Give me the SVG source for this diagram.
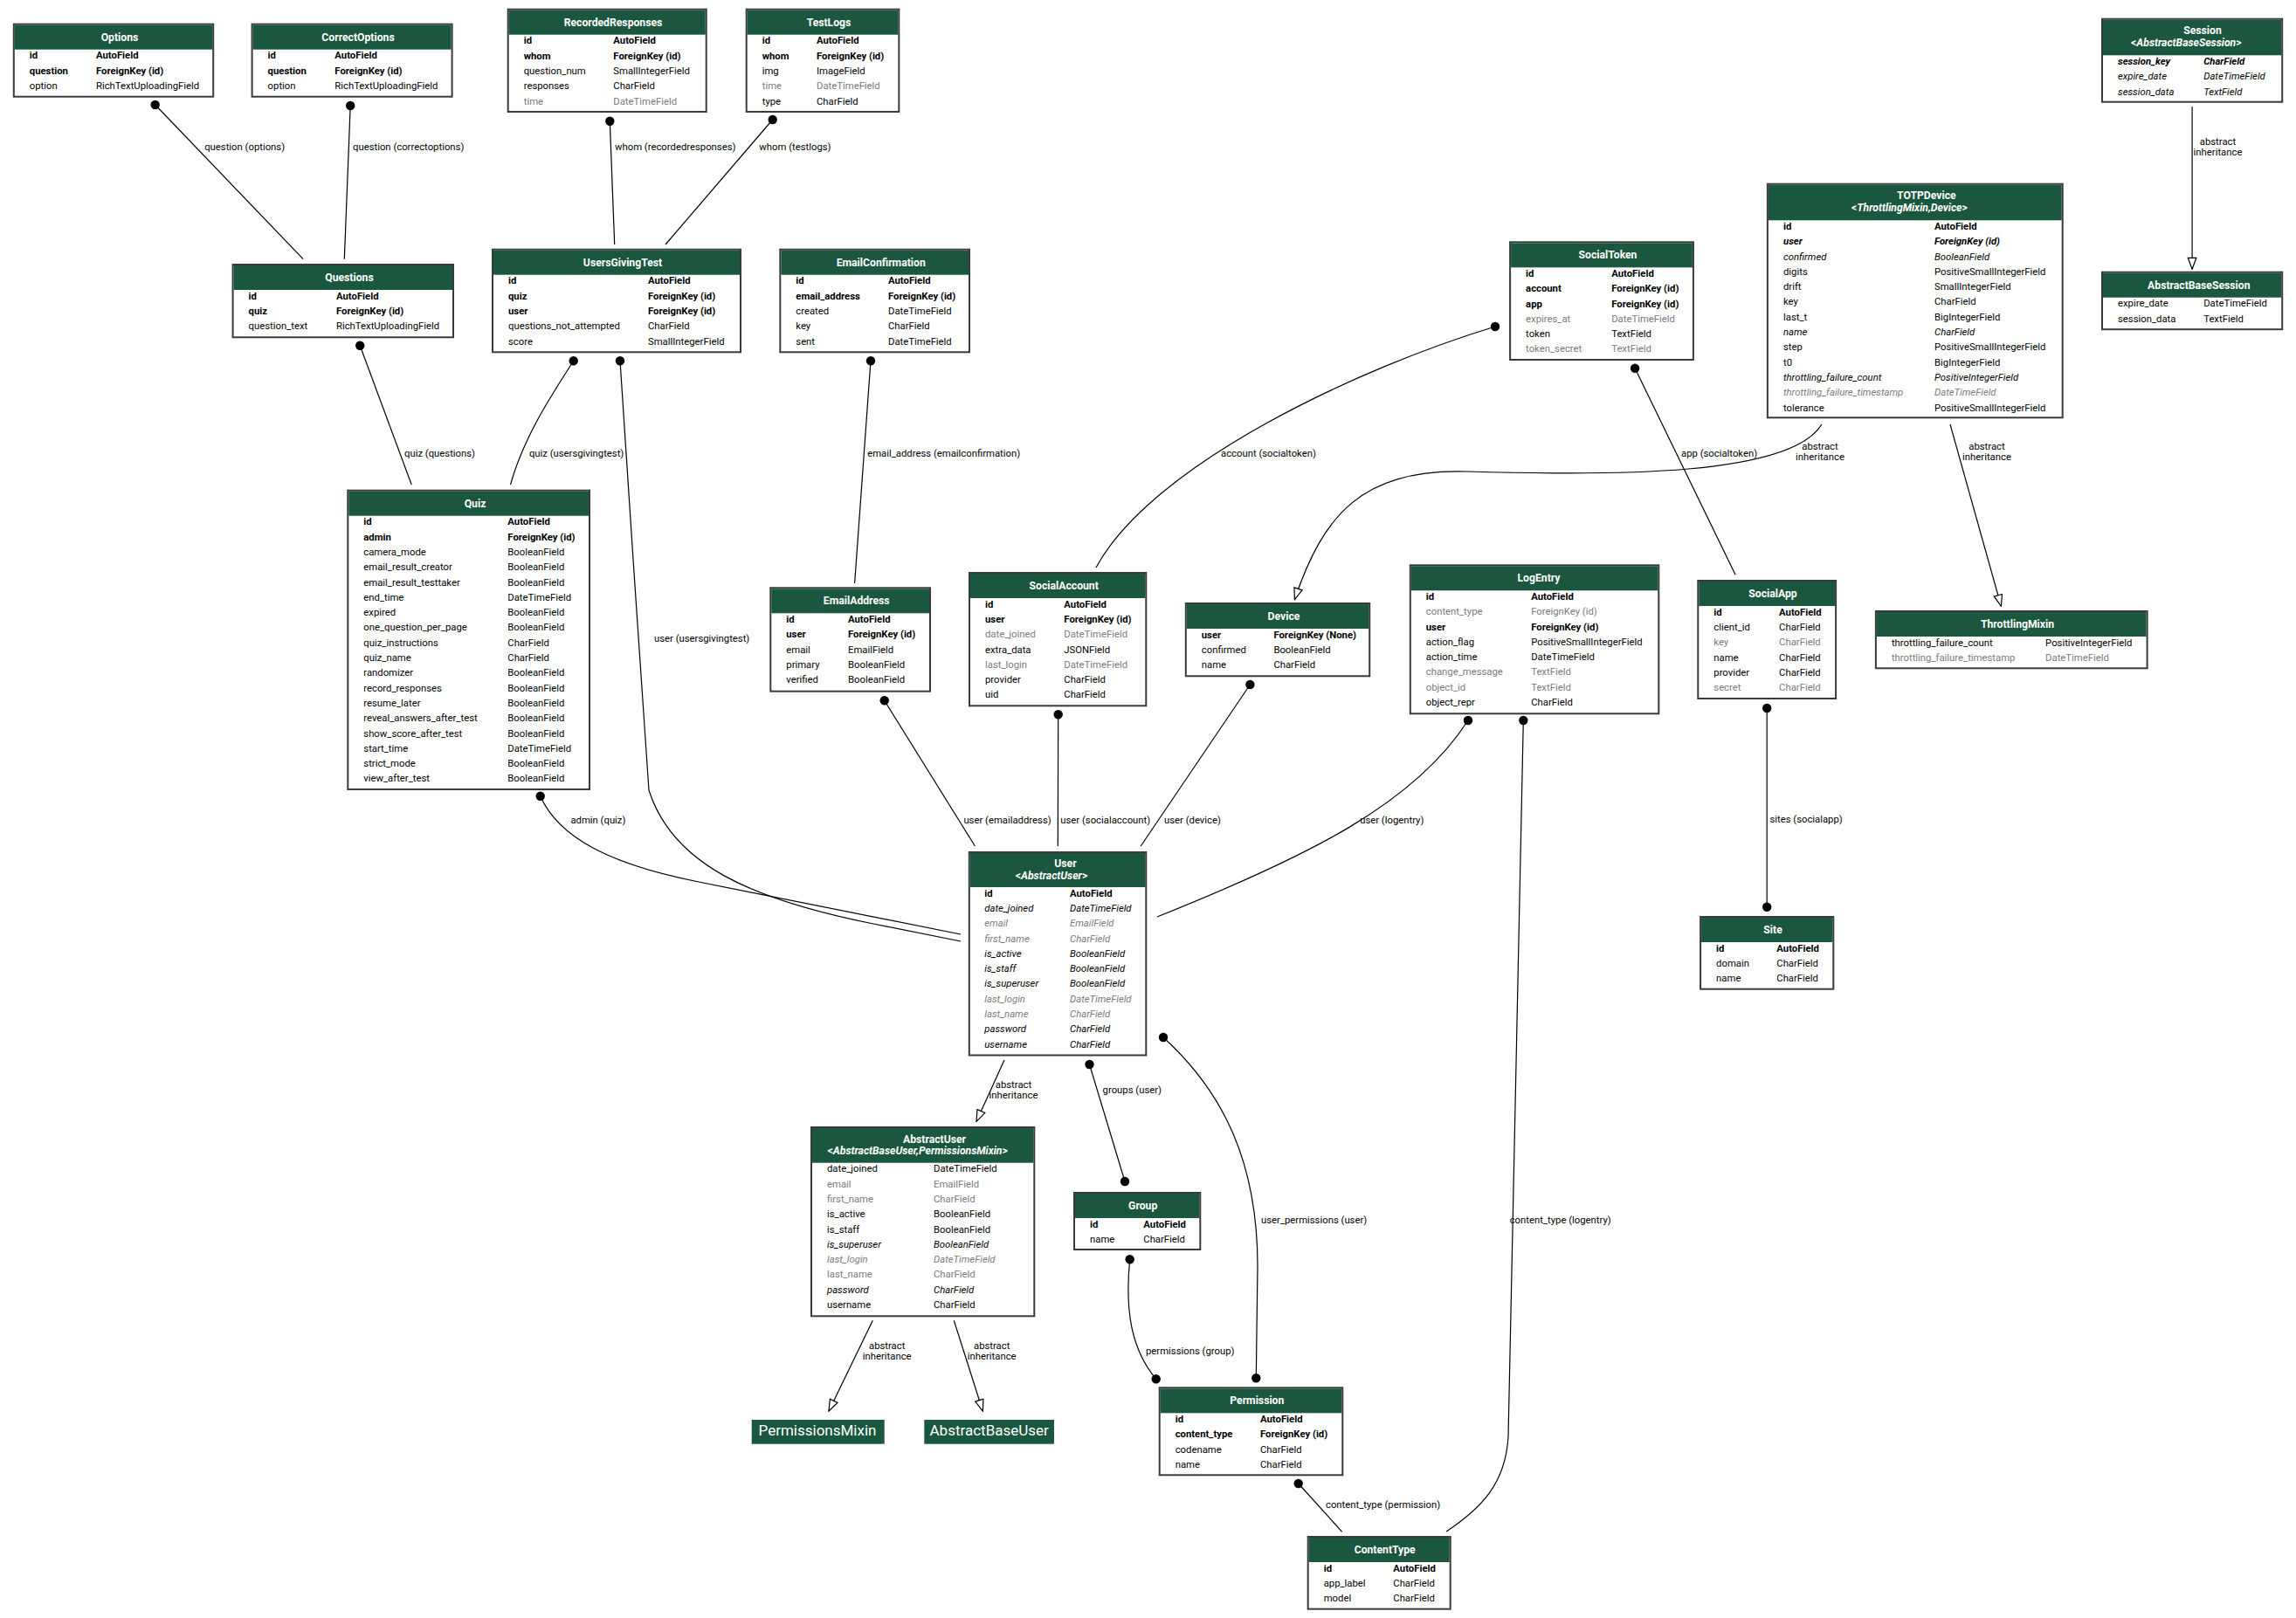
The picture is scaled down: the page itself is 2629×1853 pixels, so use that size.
<svg xmlns="http://www.w3.org/2000/svg" width="2629" height="1853" viewBox="0 0 2629 1853">
<style>
text{font-family:Roboto,"Liberation Sans",sans-serif;font-size:11.3px;fill:#000}
.box{fill:#fff;stroke:#3a3a3a;stroke-width:2}
.hd{fill:#1b563f}
.ti{font-size:12.2px;font-weight:bold;fill:#fff;text-anchor:middle}
.b{font-weight:bold}
.i{font-style:italic}
.g{fill:#7b7b7b}
.c{text-anchor:middle}
.e{fill:none;stroke:#000;stroke-width:1.2}
.fk{marker-start:url(#dot)}
.mm{marker-start:url(#dot);marker-end:url(#dot)}
.inh{marker-end:url(#tri)}
.big{fill:#1b563f}
.bt{font-size:17px;fill:#fff;text-anchor:middle}
</style>
<defs>
<marker id="dot" viewBox="-6 -6 12 12" refX="0" refY="0" markerWidth="12" markerHeight="12" markerUnits="userSpaceOnUse"><circle r="5.2" fill="#000"/></marker>
<marker id="tri" viewBox="-15 -7 16 14" refX="0" refY="0" markerWidth="16" markerHeight="14" markerUnits="userSpaceOnUse" orient="auto"><path d="M0,0 L-13,-4.8 L-13,4.8 Z" fill="#fff" stroke="#000" stroke-width="1.2"/></marker>
</defs>
<rect width="2629" height="1853" fill="#fff"/>

<g id="connectors">
<path class="e fk" d="M177.7,120 L347.1,296.7"/>
<text x="234.2" y="172.3">question (options)</text>
<path class="e fk" d="M401.2,121 L394.3,296.7"/>
<text x="404" y="172.3">question (correctoptions)</text>
<path class="e fk" d="M412.2,395.7 L471.2,555"/>
<text x="463" y="523.4">quiz (questions)</text>
<path class="e fk" d="M698.3,138.7 L703.7,280"/>
<text x="704" y="172.3">whom (recordedresponses)</text>
<path class="e fk" d="M884.7,137 L762,280"/>
<text x="869.3" y="172.3">whom (testlogs)</text>
<path class="e fk" d="M656.7,413.3 C630,455 600,500 584.5,555"/>
<text x="605.9" y="523.4">quiz (usersgivingtest)</text>
<path class="e fk" d="M710,413.3 C718,530 735,800 743,905 C770,990 860,1030 1000,1058 L1100,1078"/>
<text x="749" y="735.4">user (usersgivingtest)</text>
<path class="e fk" d="M618.7,911.7 C640,960 700,990 800,1010 L1100,1070"/>
<text x="653.4" y="942.5">admin (quiz)</text>
<path class="e fk" d="M997,413.3 L978.6,668"/>
<text x="993.2" y="523.4">email_address (emailconfirmation)</text>
<path class="e fk" d="M1712,374 C1560,420 1320,530 1255,650"/>
<text x="1398" y="523.4">account (socialtoken)</text>
<path class="e fk" d="M1012.7,802.3 L1116.4,969"/>
<text x="1103.4" y="942.5">user (emailaddress)</text>
<path class="e fk" d="M1211.7,818.3 L1211.3,969"/>
<text x="1214.3" y="942.5">user (socialaccount)</text>
<path class="e fk" d="M1431.4,784 L1306.2,969"/>
<text x="1333" y="942.5">user (device)</text>
<path class="e fk" d="M1681,825 C1620,920 1500,980 1325,1050"/>
<text x="1557.2" y="942.5">user (logentry)</text>
<path class="e fk" d="M1744.3,825 L1727,1645 C1724,1700 1695,1728 1656,1754"/>
<text x="1728.7" y="1400.7">content_type (logentry)</text>
<path class="e fk" d="M1872.1,421.7 L1987.1,658.3"/>
<text x="1925" y="523.4">app (socialtoken)</text>
<path class="e mm" d="M2023.2,811 L2023.2,1038.7"/>
<text x="2026.4" y="942.3">sites (socialapp)</text>
<path class="e inh" d="M2086,486 C2050,545 1850,545 1680,540 C1560,536 1515,590 1482.4,686.7"/>
<text class="c" x="2084" y="515">abstract</text>
<text class="c" x="2084" y="527">inheritance</text>
<path class="e inh" d="M2233,486 L2291.4,694.3"/>
<text class="c" x="2275" y="515">abstract</text>
<text class="c" x="2275" y="527">inheritance</text>
<path class="e inh" d="M2510.1,122.3 L2510.1,308.3"/>
<text class="c" x="2539.5" y="166.3">abstract</text>
<text class="c" x="2539.5" y="178">inheritance</text>
<path class="e inh" d="M1150,1214 L1118,1284.4"/>
<text class="c" x="1160.5" y="1246.4">abstract</text>
<text class="c" x="1160.5" y="1258">inheritance</text>
<path class="e inh" d="M999.3,1512.3 L949,1616"/>
<text class="c" x="1015.7" y="1545">abstract</text>
<text class="c" x="1015.7" y="1557.3">inheritance</text>
<path class="e inh" d="M1092.3,1512.3 L1125.3,1616"/>
<text class="c" x="1135.7" y="1545">abstract</text>
<text class="c" x="1135.7" y="1557.3">inheritance</text>
<path class="e mm" d="M1247.5,1219 L1288,1353"/>
<text x="1262.6" y="1251.5">groups (user)</text>
<path class="e mm" d="M1332,1188 C1400,1250 1440,1330 1440,1450 L1438.3,1578.3"/>
<text x="1444" y="1401.3">user_permissions (user)</text>
<path class="e mm" d="M1293.7,1442.3 C1288,1500 1295,1545 1323.7,1579.3"/>
<text x="1312" y="1551.3">permissions (group)</text>
<path class="e fk" d="M1486.7,1699 L1536.7,1754.3"/>
<text x="1518" y="1727.3">content_type (permission)</text>
</g>

<g id="Options">
<rect class="box" x="15.8" y="27.7" width="228.4" height="83"/>
<rect class="hd" x="16.8" y="28.7" width="226.4" height="28"/>
<text class="ti" x="137" y="46.5">Options</text>
<text class="b" x="33.8" y="67.3">id</text><text class="b" x="110" y="67.3">AutoField</text>
<text class="b" x="33.8" y="84.6">question</text><text class="b" x="110" y="84.6">ForeignKey (id)</text>
<text x="33.8" y="101.9">option</text><text x="110" y="101.9">RichTextUploadingField</text>
</g>

<g id="CorrectOptions">
<rect class="box" x="288.6" y="27.7" width="229" height="83"/>
<rect class="hd" x="289.6" y="28.7" width="227" height="28"/>
<text class="ti" x="410" y="46.5">CorrectOptions</text>
<text class="b" x="306.6" y="67.3">id</text><text class="b" x="383.3" y="67.3">AutoField</text>
<text class="b" x="306.6" y="84.6">question</text><text class="b" x="383.3" y="84.6">ForeignKey (id)</text>
<text x="306.6" y="101.9">option</text><text x="383.3" y="101.9">RichTextUploadingField</text>
</g>

<g id="Questions">
<rect class="box" x="266.6" y="303" width="252.4" height="83.3"/>
<rect class="hd" x="267.6" y="304" width="250.4" height="28"/>
<text class="ti" x="400" y="321.8">Questions</text>
<text class="b" x="284.6" y="342.6">id</text><text class="b" x="385" y="342.6">AutoField</text>
<text class="b" x="284.6" y="359.9">quiz</text><text class="b" x="385" y="359.9">ForeignKey (id)</text>
<text x="284.6" y="377.2">question_text</text><text x="385" y="377.2">RichTextUploadingField</text>
</g>

<g id="RecordedResponses">
<rect class="box" x="581.7" y="10.7" width="227" height="117.3"/>
<rect class="hd" x="582.7" y="11.7" width="225" height="28"/>
<text class="ti" x="702" y="29.5">RecordedResponses</text>
<text class="b" x="599.7" y="50.3">id</text><text class="b" x="702.3" y="50.3">AutoField</text>
<text class="b" x="599.7" y="67.6">whom</text><text class="b" x="702.3" y="67.6">ForeignKey (id)</text>
<text x="599.7" y="84.9">question_num</text><text x="702.3" y="84.9">SmallIntegerField</text>
<text x="599.7" y="102.2">responses</text><text x="702.3" y="102.2">CharField</text>
<text class="g" x="599.7" y="119.5">time</text><text class="g" x="702.3" y="119.5">DateTimeField</text>
</g>

<g id="TestLogs">
<rect class="box" x="854.7" y="10.7" width="174.6" height="117.3"/>
<rect class="hd" x="855.7" y="11.7" width="172.6" height="28"/>
<text class="ti" x="949" y="29.5">TestLogs</text>
<text class="b" x="872.7" y="50.3">id</text><text class="b" x="935" y="50.3">AutoField</text>
<text class="b" x="872.7" y="67.6">whom</text><text class="b" x="935" y="67.6">ForeignKey (id)</text>
<text x="872.7" y="84.9">img</text><text x="935" y="84.9">ImageField</text>
<text class="g" x="872.7" y="102.2">time</text><text class="g" x="935" y="102.2">DateTimeField</text>
<text x="872.7" y="119.5">type</text><text x="935" y="119.5">CharField</text>
</g>

<g id="UsersGivingTest">
<rect class="box" x="564" y="285.7" width="284" height="117.6"/>
<rect class="hd" x="565" y="286.7" width="282" height="28"/>
<text class="ti" x="713" y="304.5">UsersGivingTest</text>
<text class="b" x="582" y="325.3">id</text><text class="b" x="742" y="325.3">AutoField</text>
<text class="b" x="582" y="342.6">quiz</text><text class="b" x="742" y="342.6">ForeignKey (id)</text>
<text class="b" x="582" y="359.9">user</text><text class="b" x="742" y="359.9">ForeignKey (id)</text>
<text x="582" y="377.2">questions_not_attempted</text><text x="742" y="377.2">CharField</text>
<text x="582" y="394.5">score</text><text x="742" y="394.5">SmallIntegerField</text>
</g>

<g id="EmailConfirmation">
<rect class="box" x="893.3" y="285.7" width="216.7" height="117.6"/>
<rect class="hd" x="894.3" y="286.7" width="214.7" height="28"/>
<text class="ti" x="1008.7" y="304.5">EmailConfirmation</text>
<text class="b" x="911.3" y="325.3">id</text><text class="b" x="1017" y="325.3">AutoField</text>
<text class="b" x="911.3" y="342.6">email_address</text><text class="b" x="1017" y="342.6">ForeignKey (id)</text>
<text x="911.3" y="359.9">created</text><text x="1017" y="359.9">DateTimeField</text>
<text x="911.3" y="377.2">key</text><text x="1017" y="377.2">CharField</text>
<text x="911.3" y="394.5">sent</text><text x="1017" y="394.5">DateTimeField</text>
</g>

<g id="Quiz">
<rect class="box" x="398.3" y="561.7" width="276.7" height="342.3"/>
<rect class="hd" x="399.3" y="562.7" width="274.7" height="28"/>
<text class="ti" x="544" y="580.5">Quiz</text>
<text class="b" x="416.3" y="601.3">id</text><text class="b" x="581.3" y="601.3">AutoField</text>
<text class="b" x="416.3" y="618.6">admin</text><text class="b" x="581.3" y="618.6">ForeignKey (id)</text>
<text x="416.3" y="635.9">camera_mode</text><text x="581.3" y="635.9">BooleanField</text>
<text x="416.3" y="653.2">email_result_creator</text><text x="581.3" y="653.2">BooleanField</text>
<text x="416.3" y="670.5">email_result_testtaker</text><text x="581.3" y="670.5">BooleanField</text>
<text x="416.3" y="687.8">end_time</text><text x="581.3" y="687.8">DateTimeField</text>
<text x="416.3" y="705.1">expired</text><text x="581.3" y="705.1">BooleanField</text>
<text x="416.3" y="722.4">one_question_per_page</text><text x="581.3" y="722.4">BooleanField</text>
<text x="416.3" y="739.7">quiz_instructions</text><text x="581.3" y="739.7">CharField</text>
<text x="416.3" y="757">quiz_name</text><text x="581.3" y="757">CharField</text>
<text x="416.3" y="774.3">randomizer</text><text x="581.3" y="774.3">BooleanField</text>
<text x="416.3" y="791.6">record_responses</text><text x="581.3" y="791.6">BooleanField</text>
<text x="416.3" y="808.9">resume_later</text><text x="581.3" y="808.9">BooleanField</text>
<text x="416.3" y="826.2">reveal_answers_after_test</text><text x="581.3" y="826.2">BooleanField</text>
<text x="416.3" y="843.5">show_score_after_test</text><text x="581.3" y="843.5">BooleanField</text>
<text x="416.3" y="860.8">start_time</text><text x="581.3" y="860.8">DateTimeField</text>
<text x="416.3" y="878.1">strict_mode</text><text x="581.3" y="878.1">BooleanField</text>
<text x="416.3" y="895.4">view_after_test</text><text x="581.3" y="895.4">BooleanField</text>
</g>

<g id="EmailAddress">
<rect class="box" x="882.3" y="673.3" width="182.7" height="118.4"/>
<rect class="hd" x="883.3" y="674.3" width="180.7" height="28"/>
<text class="ti" x="980.7" y="692.1">EmailAddress</text>
<text class="b" x="900.3" y="712.9">id</text><text class="b" x="971" y="712.9">AutoField</text>
<text class="b" x="900.3" y="730.2">user</text><text class="b" x="971" y="730.2">ForeignKey (id)</text>
<text x="900.3" y="747.5">email</text><text x="971" y="747.5">EmailField</text>
<text x="900.3" y="764.8">primary</text><text x="971" y="764.8">BooleanField</text>
<text x="900.3" y="782.1">verified</text><text x="971" y="782.1">BooleanField</text>
</g>

<g id="SocialAccount">
<rect class="box" x="1110" y="656" width="202.3" height="152.3"/>
<rect class="hd" x="1111" y="657" width="200.3" height="28"/>
<text class="ti" x="1218.2" y="674.8">SocialAccount</text>
<text class="b" x="1128" y="695.6">id</text><text class="b" x="1218.3" y="695.6">AutoField</text>
<text class="b" x="1128" y="712.9">user</text><text class="b" x="1218.3" y="712.9">ForeignKey (id)</text>
<text class="g" x="1128" y="730.2">date_joined</text><text class="g" x="1218.3" y="730.2">DateTimeField</text>
<text x="1128" y="747.5">extra_data</text><text x="1218.3" y="747.5">JSONField</text>
<text class="g" x="1128" y="764.8">last_login</text><text class="g" x="1218.3" y="764.8">DateTimeField</text>
<text x="1128" y="782.1">provider</text><text x="1218.3" y="782.1">CharField</text>
<text x="1128" y="799.4">uid</text><text x="1218.3" y="799.4">CharField</text>
</g>

<g id="Device">
<rect class="box" x="1357.8" y="691" width="210.4" height="83.3"/>
<rect class="hd" x="1358.8" y="692" width="208.4" height="28"/>
<text class="ti" x="1470" y="709.8">Device</text>
<text class="b" x="1375.8" y="730.6">user</text><text class="b" x="1458.4" y="730.6">ForeignKey (None)</text>
<text x="1375.8" y="747.9">confirmed</text><text x="1458.4" y="747.9">BooleanField</text>
<text x="1375.8" y="765.2">name</text><text x="1458.4" y="765.2">CharField</text>
</g>

<g id="LogEntry">
<rect class="box" x="1614.8" y="647.3" width="284.5" height="170"/>
<rect class="hd" x="1615.8" y="648.3" width="282.5" height="28"/>
<text class="ti" x="1762" y="666.1">LogEntry</text>
<text class="b" x="1632.8" y="686.9">id</text><text class="b" x="1753.2" y="686.9">AutoField</text>
<text class="g" x="1632.8" y="704.2">content_type</text><text class="g" x="1753.2" y="704.2">ForeignKey (id)</text>
<text class="b" x="1632.8" y="721.5">user</text><text class="b" x="1753.2" y="721.5">ForeignKey (id)</text>
<text x="1632.8" y="738.8">action_flag</text><text x="1753.2" y="738.8">PositiveSmallIntegerField</text>
<text x="1632.8" y="756.1">action_time</text><text x="1753.2" y="756.1">DateTimeField</text>
<text class="g" x="1632.8" y="773.4">change_message</text><text class="g" x="1753.2" y="773.4">TextField</text>
<text class="g" x="1632.8" y="790.7">object_id</text><text class="g" x="1753.2" y="790.7">TextField</text>
<text x="1632.8" y="808">object_repr</text><text x="1753.2" y="808">CharField</text>
</g>

<g id="SocialToken">
<rect class="box" x="1729.1" y="277.3" width="209.8" height="134.7"/>
<rect class="hd" x="1730.1" y="278.3" width="207.8" height="28"/>
<text class="ti" x="1841" y="296.1">SocialToken</text>
<text class="b" x="1747.1" y="316.9">id</text><text class="b" x="1845.2" y="316.9">AutoField</text>
<text class="b" x="1747.1" y="334.2">account</text><text class="b" x="1845.2" y="334.2">ForeignKey (id)</text>
<text class="b" x="1747.1" y="351.5">app</text><text class="b" x="1845.2" y="351.5">ForeignKey (id)</text>
<text class="g" x="1747.1" y="368.8">expires_at</text><text class="g" x="1845.2" y="368.8">DateTimeField</text>
<text x="1747.1" y="386.1">token</text><text x="1845.2" y="386.1">TextField</text>
<text class="g" x="1747.1" y="403.4">token_secret</text><text class="g" x="1845.2" y="403.4">TextField</text>
</g>

<g id="TOTPDevice">
<rect class="box" x="2023.9" y="210.7" width="337.8" height="267.6"/>
<rect class="hd" x="2024.9" y="211.7" width="335.8" height="40.6"/>
<text class="ti" x="2205.8" y="228.3">TOTPDevice</text>
<text class="ti" x="2186.4" y="241.6">&lt;<tspan class="i">ThrottlingMixin,Device</tspan>&gt;</text>
<text class="b" x="2042" y="262.9">id</text><text class="b" x="2215" y="262.9">AutoField</text>
<text class="b i" x="2042" y="280.2">user</text><text class="b i" x="2215" y="280.2">ForeignKey (id)</text>
<text class="i" x="2042" y="297.5">confirmed</text><text class="i" x="2215" y="297.5">BooleanField</text>
<text x="2042" y="314.8">digits</text><text x="2215" y="314.8">PositiveSmallIntegerField</text>
<text x="2042" y="332.1">drift</text><text x="2215" y="332.1">SmallIntegerField</text>
<text x="2042" y="349.4">key</text><text x="2215" y="349.4">CharField</text>
<text x="2042" y="366.7">last_t</text><text x="2215" y="366.7">BigIntegerField</text>
<text class="i" x="2042" y="384">name</text><text class="i" x="2215" y="384">CharField</text>
<text x="2042" y="401.3">step</text><text x="2215" y="401.3">PositiveSmallIntegerField</text>
<text x="2042" y="418.6">t0</text><text x="2215" y="418.6">BigIntegerField</text>
<text class="i" x="2042" y="435.9">throttling_failure_count</text><text class="i" x="2215" y="435.9">PositiveIntegerField</text>
<text class="i g" x="2042" y="453.2">throttling_failure_timestamp</text><text class="i g" x="2215" y="453.2">DateTimeField</text>
<text x="2042" y="470.5">tolerance</text><text x="2215" y="470.5">PositiveSmallIntegerField</text>
</g>

<g id="Session">
<rect class="box" x="2407" y="21.7" width="206.2" height="95"/>
<rect class="hd" x="2408" y="22.7" width="204.2" height="40.6"/>
<text class="ti" x="2522" y="39.3">Session</text>
<text class="ti" x="2503.3" y="52.6">&lt;<tspan class="i">AbstractBaseSession</tspan>&gt;</text>
<text class="b i" x="2425" y="73.9">session_key</text><text class="b i" x="2523.2" y="73.9">CharField</text>
<text class="i" x="2425" y="91.2">expire_date</text><text class="i" x="2523.2" y="91.2">DateTimeField</text>
<text class="i" x="2425" y="108.5">session_data</text><text class="i" x="2523.2" y="108.5">TextField</text>
</g>

<g id="AbstractBaseSession">
<rect class="box" x="2407" y="311.7" width="206.2" height="65.5"/>
<rect class="hd" x="2408" y="312.7" width="204.2" height="28"/>
<text class="ti" x="2517.8" y="330.5">AbstractBaseSession</text>
<text x="2425" y="351.3">expire_date</text><text x="2523.2" y="351.3">DateTimeField</text>
<text x="2425" y="368.6">session_data</text><text x="2523.2" y="368.6">TextField</text>
</g>

<g id="ThrottlingMixin">
<rect class="box" x="2147.9" y="700" width="310.7" height="65.3"/>
<rect class="hd" x="2148.9" y="701" width="308.7" height="28"/>
<text class="ti" x="2310" y="718.8">ThrottlingMixin</text>
<text x="2165.9" y="739.6">throttling_failure_count</text><text x="2342.1" y="739.6">PositiveIntegerField</text>
<text class="g" x="2165.9" y="756.9">throttling_failure_timestamp</text><text class="g" x="2342.1" y="756.9">DateTimeField</text>
</g>

<g id="SocialApp">
<rect class="box" x="1944.3" y="665" width="157.8" height="135"/>
<rect class="hd" x="1945.3" y="666" width="155.8" height="28"/>
<text class="ti" x="2030" y="683.8">SocialApp</text>
<text class="b" x="1962.3" y="704.6">id</text><text class="b" x="2037.1" y="704.6">AutoField</text>
<text x="1962.3" y="721.9">client_id</text><text x="2037.1" y="721.9">CharField</text>
<text class="g" x="1962.3" y="739.2">key</text><text class="g" x="2037.1" y="739.2">CharField</text>
<text x="1962.3" y="756.5">name</text><text x="2037.1" y="756.5">CharField</text>
<text x="1962.3" y="773.8">provider</text><text x="2037.1" y="773.8">CharField</text>
<text class="g" x="1962.3" y="791.1">secret</text><text class="g" x="2037.1" y="791.1">CharField</text>
</g>

<g id="Site">
<rect class="box" x="1947.1" y="1050" width="152.2" height="82.7"/>
<rect class="hd" x="1948.1" y="1051" width="150.2" height="28"/>
<text class="ti" x="2030" y="1068.8">Site</text>
<text class="b" x="1965.1" y="1089.6">id</text><text class="b" x="2034.3" y="1089.6">AutoField</text>
<text x="1965.1" y="1106.9">domain</text><text x="2034.3" y="1106.9">CharField</text>
<text x="1965.1" y="1124.2">name</text><text x="2034.3" y="1124.2">CharField</text>
</g>

<g id="User">
<rect class="box" x="1109.8" y="976" width="202.5" height="232.5"/>
<rect class="hd" x="1110.8" y="977" width="200.5" height="39"/>
<text class="ti" x="1220" y="993.3">User</text>
<text class="ti" x="1204" y="1006.6">&lt;<tspan class="i">AbstractUser</tspan>&gt;</text>
<text class="b" x="1127.3" y="1026.6">id</text><text class="b" x="1225" y="1026.6">AutoField</text>
<text class="i" x="1127.3" y="1043.9">date_joined</text><text class="i" x="1225" y="1043.9">DateTimeField</text>
<text class="i g" x="1127.3" y="1061.2">email</text><text class="i g" x="1225" y="1061.2">EmailField</text>
<text class="i g" x="1127.3" y="1078.5">first_name</text><text class="i g" x="1225" y="1078.5">CharField</text>
<text class="i" x="1127.3" y="1095.8">is_active</text><text class="i" x="1225" y="1095.8">BooleanField</text>
<text class="i" x="1127.3" y="1113.1">is_staff</text><text class="i" x="1225" y="1113.1">BooleanField</text>
<text class="i" x="1127.3" y="1130.4">is_superuser</text><text class="i" x="1225" y="1130.4">BooleanField</text>
<text class="i g" x="1127.3" y="1147.7">last_login</text><text class="i g" x="1225" y="1147.7">DateTimeField</text>
<text class="i g" x="1127.3" y="1165">last_name</text><text class="i g" x="1225" y="1165">CharField</text>
<text class="i" x="1127.3" y="1182.3">password</text><text class="i" x="1225" y="1182.3">CharField</text>
<text class="i" x="1127.3" y="1199.6">username</text><text class="i" x="1225" y="1199.6">CharField</text>
</g>

<g id="AbstractUser">
<rect class="box" x="929" y="1291" width="255.3" height="216.3"/>
<rect class="hd" x="930" y="1292" width="253.3" height="39.7"/>
<text class="ti" x="1070" y="1308.6">AbstractUser</text>
<text class="ti" x="1050.7" y="1321.9">&lt;<tspan class="i">AbstractBaseUser,PermissionsMixin</tspan>&gt;</text>
<text x="947" y="1342.3">date_joined</text><text x="1069" y="1342.3">DateTimeField</text>
<text class="g" x="947" y="1359.6">email</text><text class="g" x="1069" y="1359.6">EmailField</text>
<text class="g" x="947" y="1376.9">first_name</text><text class="g" x="1069" y="1376.9">CharField</text>
<text x="947" y="1394.2">is_active</text><text x="1069" y="1394.2">BooleanField</text>
<text x="947" y="1411.5">is_staff</text><text x="1069" y="1411.5">BooleanField</text>
<text class="i" x="947" y="1428.8">is_superuser</text><text class="i" x="1069" y="1428.8">BooleanField</text>
<text class="i g" x="947" y="1446.1">last_login</text><text class="i g" x="1069" y="1446.1">DateTimeField</text>
<text class="g" x="947" y="1463.4">last_name</text><text class="g" x="1069" y="1463.4">CharField</text>
<text class="i" x="947" y="1480.7">password</text><text class="i" x="1069" y="1480.7">CharField</text>
<text x="947" y="1498">username</text><text x="1069" y="1498">CharField</text>
</g>

<g id="PermissionsMixin">
<rect class="big" x="860.7" y="1626" width="152" height="27.7"/>
<text class="bt" x="936" y="1643.5">PermissionsMixin</text>
</g>

<g id="AbstractBaseUser">
<rect class="big" x="1058.3" y="1626" width="148.7" height="27.7"/>
<text class="bt" x="1132.7" y="1643.5">AbstractBaseUser</text>
</g>

<g id="Group">
<rect class="box" x="1230" y="1366" width="144.3" height="65"/>
<rect class="hd" x="1231" y="1367" width="142.3" height="28"/>
<text class="ti" x="1308.7" y="1384.8">Group</text>
<text class="b" x="1248" y="1405.6">id</text><text class="b" x="1309.3" y="1405.6">AutoField</text>
<text x="1248" y="1422.9">name</text><text x="1309.3" y="1422.9">CharField</text>
</g>

<g id="Permission">
<rect class="box" x="1327.7" y="1589.3" width="209.6" height="100"/>
<rect class="hd" x="1328.7" y="1590.3" width="207.6" height="28"/>
<text class="ti" x="1439.3" y="1608.1">Permission</text>
<text class="b" x="1345.7" y="1628.9">id</text><text class="b" x="1443" y="1628.9">AutoField</text>
<text class="b" x="1345.7" y="1646.2">content_type</text><text class="b" x="1443" y="1646.2">ForeignKey (id)</text>
<text x="1345.7" y="1663.5">codename</text><text x="1443" y="1663.5">CharField</text>
<text x="1345.7" y="1680.8">name</text><text x="1443" y="1680.8">CharField</text>
</g>

<g id="ContentType">
<rect class="box" x="1497.7" y="1760" width="163" height="82.7"/>
<rect class="hd" x="1498.7" y="1761" width="161" height="28"/>
<text class="ti" x="1585.7" y="1778.8">ContentType</text>
<text class="b" x="1515.7" y="1799.6">id</text><text class="b" x="1595.3" y="1799.6">AutoField</text>
<text x="1515.7" y="1816.9">app_label</text><text x="1595.3" y="1816.9">CharField</text>
<text x="1515.7" y="1834.2">model</text><text x="1595.3" y="1834.2">CharField</text>
</g>
</svg>
